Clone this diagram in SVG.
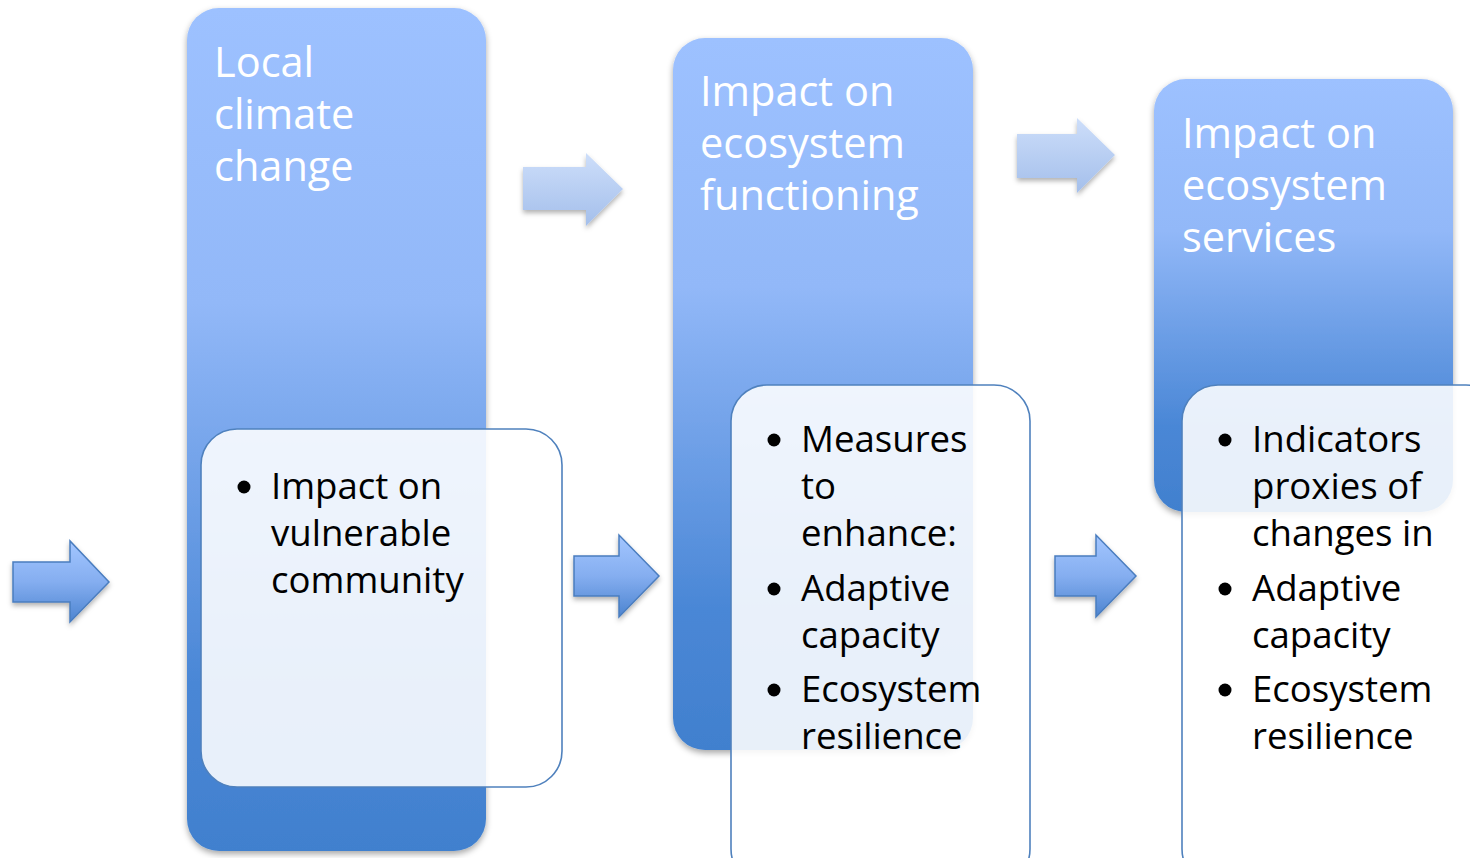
<svg xmlns="http://www.w3.org/2000/svg" width="1470" height="858" viewBox="0 0 1470 858">
<defs>
<linearGradient id="colGrad" x1="0" y1="0" x2="0" y2="1">
<stop offset="0" stop-color="#9DC1FF"/>
<stop offset="0.35" stop-color="#92B8F8"/>
<stop offset="0.8" stop-color="#4A87D6"/>
<stop offset="1" stop-color="#4180CE"/>
</linearGradient>
<linearGradient id="darkArrow" x1="0" y1="0" x2="0" y2="1">
<stop offset="0" stop-color="#A3C6FF"/>
<stop offset="0.5" stop-color="#85AEF0"/>
<stop offset="1" stop-color="#4C84D0"/>
</linearGradient>
<linearGradient id="lightArrow" x1="0" y1="0" x2="0" y2="1">
<stop offset="0" stop-color="#CDDEFA"/>
<stop offset="1" stop-color="#A4BFEB"/>
</linearGradient>
<filter id="shadow" x="-10%" y="-10%" width="120%" height="120%">
<feDropShadow dx="0" dy="3" stdDeviation="3" flood-color="#000" flood-opacity="0.35"/>
</filter>
<filter id="ashadow" x="-20%" y="-20%" width="140%" height="150%">
<feDropShadow dx="0" dy="3" stdDeviation="2.5" flood-color="#000" flood-opacity="0.3"/>
</filter>
</defs>
<style>
.col{fill:url(#colGrad);filter:url(#shadow);}
.box{fill:#FFFFFF;fill-opacity:0.88;stroke:#4F81BD;stroke-width:1.6;}
.darr{fill:url(#darkArrow);stroke:#4A7DBF;stroke-width:1.5;filter:url(#ashadow);}
.larr{fill:url(#lightArrow);filter:url(#ashadow);}
.head{font-family:"Open Sans","Noto Sans",sans-serif;font-size:41.5px;fill:#FFFFFF;}
.body{font-family:"Open Sans","Noto Sans",sans-serif;font-size:36.6px;fill:#000000;}
.bul{fill:#000000;}
</style>

<g id="col1">
<rect class="col" x="187" y="8" width="299" height="843" rx="32"/>
<text class="head" x="214" y="77">Local</text>
<text class="head" x="214" y="129">climate</text>
<text class="head" x="214" y="181">change</text>
</g>
<g id="box1">
<rect class="box" x="201" y="429" width="361" height="358" rx="36"/>
<circle class="bul" cx="244" cy="487" r="6.5"/>
<text class="body" x="271" y="499">Impact on</text>
<text class="body" x="271" y="546">vulnerable</text>
<text class="body" x="271" y="593">community</text>
</g>

<g id="col2">
<rect class="col" x="673" y="38" width="300" height="712" rx="32"/>
<text class="head" x="700" y="106">Impact on</text>
<text class="head" x="700" y="158">ecosystem</text>
<text class="head" x="700" y="210">functioning</text>
</g>
<g id="box2">
<rect class="box" x="731" y="385" width="299" height="500" rx="36"/>
<circle class="bul" cx="774" cy="440" r="6.5"/>
<text class="body" x="801" y="452">Measures</text>
<text class="body" x="801" y="499">to</text>
<text class="body" x="801" y="546">enhance:</text>
<circle class="bul" cx="774" cy="589" r="6.5"/>
<text class="body" x="801" y="601">Adaptive</text>
<text class="body" x="801" y="648">capacity</text>
<circle class="bul" cx="774" cy="690" r="6.5"/>
<text class="body" x="801" y="702">Ecosystem</text>
<text class="body" x="801" y="749">resilience</text>
</g>

<g id="col3">
<rect class="col" x="1154" y="79" width="299" height="433" rx="32"/>
<text class="head" x="1182" y="148">Impact on</text>
<text class="head" x="1182" y="200">ecosystem</text>
<text class="head" x="1182" y="252">services</text>
</g>
<g id="box3">
<rect class="box" x="1182" y="385" width="320" height="500" rx="36"/>
<circle class="bul" cx="1225" cy="440" r="6.5"/>
<text class="body" x="1252" y="452">Indicators</text>
<text class="body" x="1252" y="499">proxies of</text>
<text class="body" x="1252" y="546">changes in</text>
<circle class="bul" cx="1225" cy="589" r="6.5"/>
<text class="body" x="1252" y="601">Adaptive</text>
<text class="body" x="1252" y="648">capacity</text>
<circle class="bul" cx="1225" cy="690" r="6.5"/>
<text class="body" x="1252" y="702">Ecosystem</text>
<text class="body" x="1252" y="749">resilience</text>
</g>

<g id="connectors">
<polygon class="darr" points="13,562 70,562 70,541 109,582 70,622 70,602 13,602"/>
<polygon class="darr" points="574,556 619,556 619,535 659,576 619,617 619,596 574,596"/>
<polygon class="darr" points="1055,556 1096,556 1096,535 1136,576 1096,617 1096,596 1055,596"/>
<polygon class="larr" points="523,167 586,167 586,153 623,189 586,226 586,210 523,210"/>
<polygon class="larr" points="1017,134 1077,134 1077,118 1115,155 1077,193 1077,178 1017,178"/>
</g>
</svg>
